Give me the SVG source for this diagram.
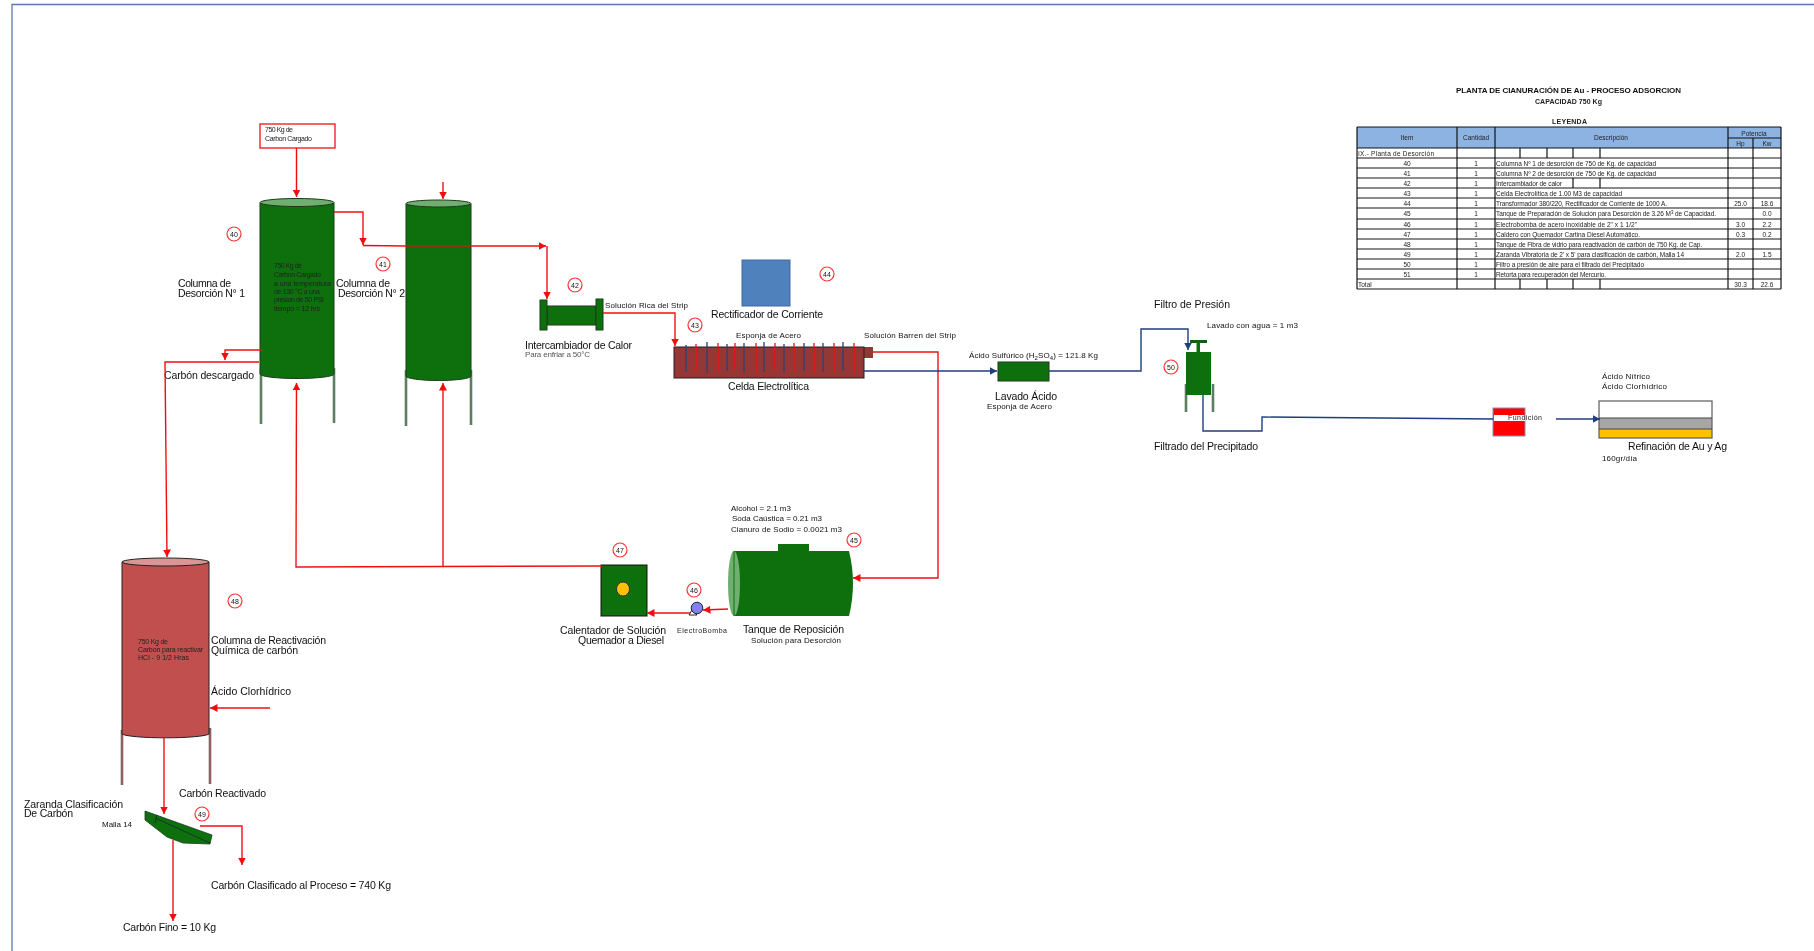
<svg xmlns="http://www.w3.org/2000/svg" width="1814" height="951" viewBox="0 0 1814 951">
<style>
text{font-family:"Liberation Sans",Arial,sans-serif;fill:#111;font-size:10.5px}
.s{font-size:8px}.xs{font-size:7px;fill:#222}.t{font-size:6.5px;fill:#222}.b{font-weight:bold}
.m{text-anchor:middle}
.n{font-size:7px;text-anchor:middle;fill:#111}
.r{fill:none;stroke:#f01010;stroke-width:1.4}
.u{fill:none;stroke:#1f3f7f;stroke-width:1.4}
.ra{marker-end:url(#ar)}.ua{marker-end:url(#au)}
.c{fill:#fff;stroke:#f33;stroke-width:1.2}
.g{fill:#0f7010;stroke:#1c3a1c;stroke-width:1}
.leg{fill:none;stroke:#5f7d62;stroke-width:2.600}
.grid line{stroke:#111;stroke-width:1.200}
</style>
<defs>
<filter id="bl" x="0" y="0" width="1814" height="951" filterUnits="userSpaceOnUse"><feGaussianBlur stdDeviation="0.5"/></filter>
<marker id="ar" markerWidth="9" markerHeight="8" refX="7.5" refY="4" orient="auto" markerUnits="userSpaceOnUse"><path d="M0,0L7.5,4L0,8z" fill="#f01010"/></marker>
<marker id="au" markerWidth="9" markerHeight="8" refX="7.5" refY="4" orient="auto" markerUnits="userSpaceOnUse"><path d="M0,0L7.5,4L0,8z" fill="#1f3f7f"/></marker>
</defs>
<rect width="1814" height="951" fill="#fff"/>
<g filter="url(#bl)">
<path d="M12,951V4.500H1814" fill="none" stroke="#5a78b0" stroke-width="1.300"/>

<g id="n-carga"><rect x="260" y="124" width="75" height="24" fill="#fff" stroke="#f01010" stroke-width="1.300"/>
<text class="xs" x="265" y="132" textLength="28">750 Kg de</text><text class="xs" x="265" y="141" textLength="47">Carbon Cargado</text></g>

<g id="n40">
<path class="leg" d="M261,368V424M334,368V423"/>
<path class="g" d="M260,203V374A37,4.500 0 0 0 334,374V203z"/><ellipse cx="297" cy="202.500" rx="37" ry="4" fill="#6faf6f" stroke="#1c3a1c"/>
<text class="xs" x="274" y="268" textLength="28">750 Kg de</text><text class="xs" x="274" y="277" textLength="47">Carbon Cargado</text><text class="xs" x="274" y="286" textLength="57">a una temperatura</text><text class="xs" x="274" y="294" textLength="46">de 130 °C a una</text><text class="xs" x="274" y="302" textLength="50">presion de 50 PSI</text><text class="xs" x="274" y="311" textLength="46">tiempo = 12 hrs</text>
<circle class="c" cx="234" cy="234" r="7"/><text class="n" x="234" y="236.500">40</text>
<text x="178" y="287" textLength="53">Columna de</text><text x="178" y="297" textLength="67">Desorción N° 1</text>
<text x="164" y="379" textLength="90">Carbón descargado</text></g>

<g id="n41">
<path class="leg" d="M406,370V426M471,370V425"/>
<path class="g" d="M406,204V376A32.500,4.500 0 0 0 471,376V204z"/><ellipse cx="438.500" cy="203.500" rx="32.500" ry="3.500" fill="#6faf6f" stroke="#1c3a1c"/>
<circle class="c" cx="383" cy="264" r="7"/><text class="n" x="383" y="266.500">41</text>
<text x="336" y="287" textLength="54">Columna de</text><text x="338" y="297" textLength="67">Desorción N° 2</text></g>

<g id="n42">
<rect class="g" x="547" y="306" width="49" height="19"/><rect class="g" x="540" y="300" width="7" height="30"/><rect class="g" x="596" y="299" width="7" height="31"/>
<circle class="c" cx="575" cy="285" r="7"/><text class="n" x="575" y="287.500">42</text>
<text class="s" x="605" y="308" textLength="83">Solución Rica del Strip</text>
<text x="525" y="349" textLength="107">Intercambiador de Calor</text><text class="s" style="fill:#555" x="525" y="357" textLength="65">Para enfriar a 50°C</text></g>

<g id="n43">
<rect x="864" y="347" width="9" height="11" fill="#953735"/>
<rect x="674" y="347" width="190" height="31" fill="#953735" stroke="#222"/>
<path d="M686,345V372M707,342V373M727,344V371M744,343V373M764,342V372M784,344V372M804,343V371M823,343V372M843,342V371" fill="none" stroke="#2f3f70" stroke-width="1.300"/>
<path d="M696,344V372M718,343V371M735,343V371M756,343V372M775,343V372M794,343V372M814,343V372M834,343V372M854,343V372" fill="none" stroke="#f01010" stroke-width="1.300"/>
<circle class="c" cx="695" cy="325" r="7"/><text class="n" x="695" y="327.500">43</text>
<text class="s" x="736" y="338" textLength="65">Esponja de Acero</text>
<text class="s" x="864" y="338" textLength="92">Solución Barren del Strip</text>
<text x="728" y="390" textLength="81">Celda Electrolítica</text></g>

<g id="n44"><rect x="742" y="260" width="48" height="46" fill="#4f81bd" stroke="#3f6a9f"/>
<circle class="c" cx="827" cy="274" r="7"/><text class="n" x="827" y="276.500">44</text>
<text x="711" y="318" textLength="112">Rectificador de Corriente</text></g>

<g id="n-lavado"><rect class="g" x="998" y="362" width="51" height="19"/>
<text class="s" x="969" y="358" textLength="129">Ácido Sulfúrico  (H<tspan dy="1.500" font-size="6">2</tspan><tspan dy="-1.500">SO</tspan><tspan dy="1.500" font-size="6">4</tspan><tspan dy="-1.500">) = 121.8 Kg</tspan></text>
<text x="995" y="400" textLength="62">Lavado Ácido</text><text class="s" x="987" y="409" textLength="65">Esponja de Acero</text></g>

<g id="n50">
<path class="leg" d="M1186,384V412M1213,384V412"/>
<path d="M1190,341.500H1207" stroke="#145a14" stroke-width="3" fill="none"/><rect x="1196.500" y="342" width="3.500" height="10" fill="#0f7010"/>
<rect x="1186" y="352" width="25" height="43" fill="#0f7010"/>
<circle class="c" cx="1171" cy="367" r="7"/><text class="n" x="1171" y="369.500">50</text>
<text x="1154" y="308" textLength="76">Filtro de Presión</text><text class="s" x="1207" y="328" textLength="91">Lavado con agua = 1 m3</text>
<text x="1154" y="450" textLength="104">Filtrado del Precipitado</text></g>

<g id="n-fundicion"><rect x="1493" y="408" width="32" height="28" fill="#ff0000" stroke="#8a8fa8"/><rect x="1494" y="415" width="31" height="6" fill="#fff"/>
<text class="xs" x="1508" y="419.500" textLength="34">Fundición</text></g>

<g id="n-refinacion">
<rect x="1599" y="401" width="113" height="17" fill="#fff"/><rect x="1599" y="418" width="113" height="11" fill="#a6a6a6"/><rect x="1599" y="429" width="113" height="9" fill="#ffc000"/>
<rect x="1599" y="401" width="113" height="37" fill="none" stroke="#666" stroke-width="1.300"/><path d="M1599,418H1712M1599,429H1712" stroke="#444" fill="none"/>
<text class="s" x="1602" y="379" textLength="48">Ácido Nítrico</text><text class="s" x="1602" y="389" textLength="65">Ácido Clorhídrico</text>
<text x="1628" y="450" textLength="99">Refinación de Au y Ag</text><text class="s" x="1602" y="461" textLength="35">160gr/día</text></g>

<g id="n45">
<rect x="778" y="544" width="31" height="8" fill="#0f7010"/>
<path d="M734,551H849Q857,583 849,616H734z" fill="#0f7010"/><ellipse cx="734" cy="583.500" rx="6" ry="32.500" fill="#6faf6f"/><path d="M734,551V616" stroke="#0f7010" stroke-width="1"/>
<circle class="c" cx="854" cy="540" r="7"/><text class="n" x="854" y="542.500">45</text>
<text class="s" x="731" y="511" textLength="60">Alcohol = 2.1 m3</text><text class="s" x="732" y="521" textLength="90">Soda Caústica = 0.21 m3</text><text class="s" x="731" y="532" textLength="111">Cianuro de Sodio = 0.0021 m3</text>
<text x="743" y="633" textLength="101">Tanque de Reposición</text><text class="s" x="751" y="643" textLength="90">Solución para Desorción</text></g>

<g id="n46"><path d="M689,615H697L692,610z" fill="#fff" stroke="#222"/><circle cx="697" cy="608" r="5.800" fill="#8080ee" stroke="#223"/>
<circle class="c" cx="694" cy="590" r="7"/><text class="n" x="694" y="592.500">46</text>
<text class="xs" x="677" y="633" textLength="50">ElectroBomba</text></g>

<g id="n47"><rect class="g" style="stroke:#111" x="601" y="565" width="46" height="51"/><ellipse cx="623" cy="589" rx="6.500" ry="7" fill="#ffc000" stroke="#333"/>
<circle class="c" cx="620" cy="550" r="7"/><text class="n" x="620" y="552.500">47</text>
<text x="560" y="634" textLength="106">Calentador de Solución</text><text x="578" y="644" textLength="86">Quemador a Diesel</text></g>

<g id="n48">
<path class="leg" style="stroke:#8a6060" d="M122,730V785M210,728V784"/>
<path d="M122,562V734A44,4.500 0 0 0 209,734V562z" fill="#c0504d" stroke="#222"/><ellipse cx="165.500" cy="562" rx="43.500" ry="4" fill="#d99694" stroke="#222"/>
<circle class="c" cx="235" cy="601" r="7"/><text class="n" x="235" y="603.500">48</text>
<text class="xs" x="138" y="644" textLength="30">750 Kg de</text><text class="xs" x="138" y="652" textLength="65">Carbon para reactivar</text><text class="xs" x="138" y="660" textLength="51">HCl - 9 1/2 Hras</text>
<text x="211" y="644" textLength="115">Columna de Reactivación</text><text x="211" y="654" textLength="87">Química de carbón</text>
<text x="211" y="695" textLength="80">Ácido Clorhídrico</text></g>

<g id="n49">
<path d="M145,811L212,835L210,844L183,843L167,837L145,820z" fill="#0f7010" stroke="#1c3a1c" stroke-width="0.800"/><path d="M155,818L210,843M157,815L155,823" stroke="#123" stroke-width="0.700" fill="none"/>
<circle class="c" cx="202" cy="814" r="7"/><text class="n" x="202" y="816.500">49</text>
<text x="179" y="797" textLength="87">Carbón Reactivado</text>
<text x="24" y="808" textLength="99">Zaranda Clasificación</text><text x="24" y="817" textLength="49">De Carbón</text>
<text class="s" x="102" y="827" textLength="30">Malla 14</text>
<text x="211" y="889" textLength="180">Carbón Clasificado al Proceso = 740 Kg</text>
<text x="123" y="931" textLength="93">Carbón Fino = 10 Kg</text></g>

<g id="connectors">
<path class="r ra" d="M296.500,148V197"/>
<path class="r ra" d="M443,182V199"/>
<path class="r ra" d="M334,212H363V245"/>
<path class="r" d="M363,245.500L406,246"/>
<path d="M406,246H471" fill="none" stroke="#b82010" stroke-width="1.400"/>
<path class="r ra" d="M471,246H546"/>
<path class="r ra" d="M547,246V299"/>
<path class="r ra" d="M262,350H225V360"/>
<path class="r ra" d="M259,362H165L167,557"/>
<path class="r ra" d="M602,566L296,567L296.500,383"/>
<path class="r ra" d="M443,566V383"/>
<path class="r ra" d="M603,313H675V346"/>
<path class="r ra" d="M873,352H938V578H853"/>
<path class="r ra" d="M728,609L703,610"/>
<path class="r ra" d="M690,613H647"/>
<path class="r ra" d="M270,708H210"/>
<path class="r ra" d="M164,738V814"/>
<path class="r ra" d="M200,826H242V865"/>
<path class="r ra" d="M173,840V921"/>
<path class="u ua" d="M864,371H997"/>
<path class="u ua" d="M1049,371H1141V329H1188V350"/>
<path class="u" d="M1203,395V431H1262V417L1493,419"/>
<path class="u ua" d="M1556,419H1600"/>
</g>

<g id="leyenda">
<text class="s b" x="1456" y="93" textLength="225">PLANTA DE CIANURACIÓN DE Au - PROCESO ADSORCION</text>
<text class="xs b" x="1535" y="104" textLength="67">CAPACIDAD 750 Kg</text>
<text class="xs b" x="1552" y="124" textLength="35">LEYENDA</text>
<rect x="1357" y="127" width="424" height="21" fill="#8db3e2"/>
<g class="grid">
<line x1="1357" x2="1781" y1="127" y2="127"/><line x1="1728" x2="1781" y1="138" y2="138"/><line x1="1357" x2="1781" y1="148" y2="148"/><line x1="1357" x2="1781" y1="158" y2="158"/><line x1="1357" x2="1781" y1="168" y2="168"/><line x1="1357" x2="1781" y1="178" y2="178"/><line x1="1357" x2="1781" y1="188" y2="188"/><line x1="1357" x2="1781" y1="198" y2="198"/><line x1="1357" x2="1781" y1="208" y2="208"/><line x1="1357" x2="1781" y1="219" y2="219"/><line x1="1357" x2="1781" y1="229" y2="229"/><line x1="1357" x2="1781" y1="239" y2="239"/><line x1="1357" x2="1781" y1="249" y2="249"/><line x1="1357" x2="1781" y1="259" y2="259"/><line x1="1357" x2="1781" y1="269" y2="269"/><line x1="1357" x2="1781" y1="279" y2="279"/><line x1="1357" x2="1781" y1="289" y2="289"/>
<line x1="1357" x2="1357" y1="127" y2="289"/><line x1="1457" x2="1457" y1="127" y2="289"/><line x1="1495" x2="1495" y1="127" y2="289"/><line x1="1728" x2="1728" y1="127" y2="289"/><line x1="1753" x2="1753" y1="138" y2="289"/><line x1="1781" x2="1781" y1="127" y2="289"/>
<line x1="1520" x2="1520" y1="148" y2="158"/><line x1="1547" x2="1547" y1="148" y2="158"/><line x1="1573" x2="1573" y1="148" y2="158"/><line x1="1600" x2="1600" y1="148" y2="158"/>
<line x1="1573" x2="1573" y1="178" y2="188"/><line x1="1600" x2="1600" y1="178" y2="188"/>
<line x1="1520" x2="1520" y1="279" y2="289"/><line x1="1547" x2="1547" y1="279" y2="289"/><line x1="1573" x2="1573" y1="279" y2="289"/><line x1="1600" x2="1600" y1="279" y2="289"/>
</g>
<text class="t m" x="1407" y="139.500">Item</text><text class="t m" x="1476" y="139.500">Cantidad</text><text class="t m" x="1611" y="139.500">Descripción</text><text class="t m" x="1754" y="135.500">Potencia</text><text class="t m" x="1740.500" y="146">Hp</text><text class="t m" x="1767" y="146">Kw</text>
<text class="t" x="1358" y="155.500" textLength="76">IX.- Planta de Desorción</text>
<text class="t m" x="1407" y="165.500">40</text><text class="t m" x="1476" y="165.500">1</text><text class="t" x="1496" y="165.500" textLength="160">Columna Nº 1 de desorción de 750 de Kg. de capacidad</text>
<text class="t m" x="1407" y="175.500">41</text><text class="t m" x="1476" y="175.500">1</text><text class="t" x="1496" y="175.500" textLength="160">Columna Nº 2 de desorción de 750 de Kg. de capacidad</text>
<text class="t m" x="1407" y="185.500">42</text><text class="t m" x="1476" y="185.500">1</text><text class="t" x="1496" y="185.500" textLength="66">Intercambiador de calor</text>
<text class="t m" x="1407" y="195.500">43</text><text class="t m" x="1476" y="195.500">1</text><text class="t" x="1496" y="195.500" textLength="126">Celda Electrolítica de 1.00 M3 de capacidad</text>
<text class="t m" x="1407" y="205.500">44</text><text class="t m" x="1476" y="205.500">1</text><text class="t" x="1496" y="205.500" textLength="171">Transformador 380/220, Rectificador de Corriente de 1000 A.</text><text class="t m" x="1740.500" y="205.500">25.0</text><text class="t m" x="1767" y="205.500">18.6</text>
<text class="t m" x="1407" y="216">45</text><text class="t m" x="1476" y="216">1</text><text class="t" x="1496" y="216" textLength="220">Tanque de Preparación de Solución para Desorción de 3.26 M<tspan dy="-2" font-size="4.500">3</tspan><tspan dy="2"> de Capacidad.</tspan></text><text class="t m" x="1767" y="216">0.0</text>
<text class="t m" x="1407" y="226.500">46</text><text class="t m" x="1476" y="226.500">1</text><text class="t" x="1496" y="226.500" textLength="141">Electrobomba de acero inoxidable de 2" x  1 1/2"</text><text class="t m" x="1740.500" y="226.500">3.0</text><text class="t m" x="1767" y="226.500">2.2</text>
<text class="t m" x="1407" y="236.500">47</text><text class="t m" x="1476" y="236.500">1</text><text class="t" x="1496" y="236.500" textLength="144">Caldero con Quemador Cartina Diesel Automático.</text><text class="t m" x="1740.500" y="236.500">0.3</text><text class="t m" x="1767" y="236.500">0.2</text>
<text class="t m" x="1407" y="246.500">48</text><text class="t m" x="1476" y="246.500">1</text><text class="t" x="1496" y="246.500" textLength="206">Tanque de Fibra de vidrio para reactivación de carbón de 750 Kg. de Cap.</text>
<text class="t m" x="1407" y="256.500">49</text><text class="t m" x="1476" y="256.500">1</text><text class="t" x="1496" y="256.500" textLength="188">Zaranda Vibratoria de 2' x 5' para clasificación de carbón, Malla 14</text><text class="t m" x="1740.500" y="256.500">2.0</text><text class="t m" x="1767" y="256.500">1.5</text>
<text class="t m" x="1407" y="266.500">50</text><text class="t m" x="1476" y="266.500">1</text><text class="t" x="1496" y="266.500" textLength="148">Filtro a presión de aire para el filtrado del Precipitado</text>
<text class="t m" x="1407" y="276.500">51</text><text class="t m" x="1476" y="276.500">1</text><text class="t" x="1496" y="276.500" textLength="110">Retorta para recuperación del Mercurio.</text>
<text class="t" x="1358" y="286.500">Total</text><text class="t m" x="1740.500" y="286.500">30.3</text><text class="t m" x="1767" y="286.500">22.6</text>
</g>
</g>
</svg>
